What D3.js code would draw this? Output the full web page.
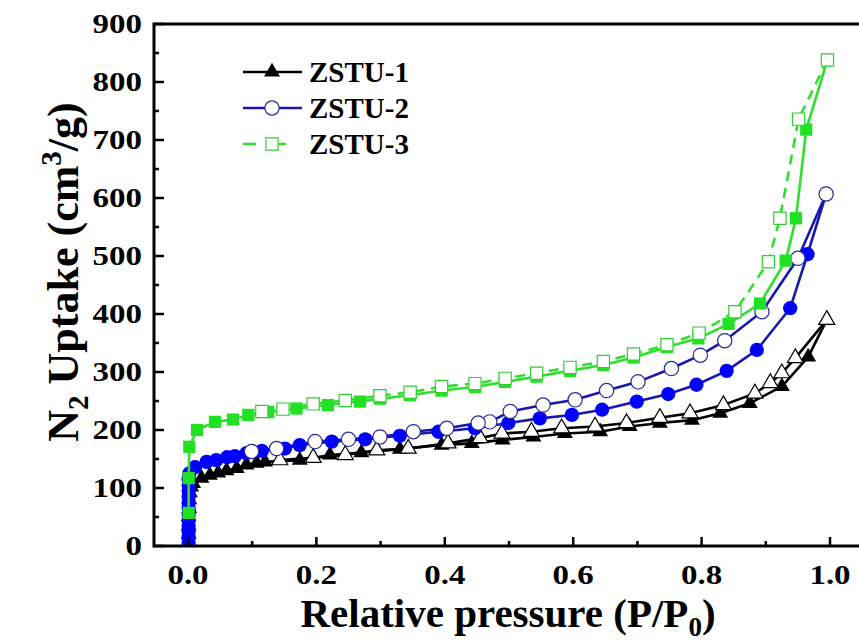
<!DOCTYPE html>
<html>
<head>
<meta charset="utf-8">
<script src="https://cdn.jsdelivr.net/npm/d3@7/dist/d3.min.js"></script>
<style>
  body { margin: 0; background: #fff; }
  text { font-family: "Liberation Serif", "Times New Roman", serif; font-weight: bold; fill: #000; }
</style>
</head>
<body>
<svg id="chart" width="859" height="641"></svg>
<script>
// [P/P0, uptake]
var zstu1Ads = [[0.001,5],[0.001,20],[0.001,35],[0.001,50],[0.002,65],[0.002,80],[0.003,92],[0.005,102],
  [0.008,108],[0.021,117],[0.034,122],[0.047,126],[0.06,130],[0.076,134],[0.091,140],[0.107,143],[0.12,145],
  [0.174,148],[0.221,157],[0.27,161],[0.33,167],[0.395,174],[0.442,177],[0.49,183],[0.538,188],[0.587,194],
  [0.642,197],[0.688,206],[0.735,212],[0.785,217],[0.829,229],[0.875,246],[0.925,275],[0.966,326],[0.995,390]];
var zstu1Des = [[0.995,390],[0.946,324],[0.925,298],[0.907,281],[0.883,263],[0.834,243],[0.782,229],[0.735,221],
  [0.683,212],[0.634,206],[0.582,203],[0.535,197],[0.489,194],[0.455,186],[0.405,177],[0.343,168],[0.294,165],
  [0.245,157],[0.195,152],[0.143,148]];

var zstu2Ads = [[0.001,5],[0.001,15],[0.001,25],[0.001,35],[0.001,45],[0.001,55],[0.001,65],[0.001,75],[0.001,85],
  [0.001,95],[0.001,105],[0.001,115],[0.002,125],[0.011,136],[0.029,145],[0.044,148],[0.061,153],[0.073,155],
  [0.091,160],[0.115,164],[0.151,168],[0.174,174],[0.224,180],[0.276,184],[0.33,190],[0.39,197],[0.447,203],
  [0.499,212],[0.548,220],[0.598,226],[0.645,235],[0.699,249],[0.748,262],[0.792,278],[0.839,302],[0.886,338],
  [0.938,410],[0.965,503],[0.994,607]];
var zstu2Des = [[0.994,607],[0.95,496],[0.894,404],[0.836,354],[0.798,329],[0.753,306],[0.701,283],[0.652,268],
  [0.603,252],[0.553,243],[0.502,232],[0.47,214],[0.452,212],[0.403,203],[0.351,197],[0.299,188],[0.25,184],
  [0.198,180],[0.138,168],[0.099,163]];

var zstu3Ads = [[0.001,57],[0.001,117],[0.002,171],[0.014,200],[0.042,214],[0.07,218],[0.094,226],[0.125,231],
  [0.169,237],[0.218,243],[0.268,249],[0.299,254],[0.346,260],[0.395,268],[0.447,274],[0.494,283],[0.543,292],
  [0.595,302],[0.647,312],[0.694,325],[0.746,343],[0.795,358],[0.842,383],[0.891,418],[0.931,492],[0.947,565],
  [0.963,718],[0.996,838]];
var zstu3Des = [[0.996,838],[0.951,736],[0.922,565],[0.904,490],[0.852,404],[0.796,367],[0.746,347],[0.694,331],
  [0.647,318],[0.595,308],[0.543,298],[0.494,289],[0.447,280],[0.395,275],[0.346,265],[0.299,259],[0.245,251],
  [0.195,245],[0.148,236],[0.115,232]];

var seriesNames = ["ZSTU-1", "ZSTU-2", "ZSTU-3"];
var xTicks = [0, 0.2, 0.4, 0.6, 0.8, 1.0];
var yTicks = [0, 100, 200, 300, 400, 500, 600, 700, 800, 900];

var svg = d3.select("#chart");
var plotLeft = 154, plotTop = 24, plotBottom = 546, plotRight = 875;

var x = d3.scaleLinear().domain([0, 1]).range([188, 830]);
var y = d3.scaleLinear().domain([0, 900]).range([plotBottom, plotTop]);

svg.append("defs").append("clipPath").attr("id", "plotclip")
  .append("rect").attr("x", plotLeft).attr("y", plotTop)
  .attr("width", plotRight - plotLeft).attr("height", plotBottom - plotTop);

var plot = svg.append("g").attr("clip-path", "url(#plotclip)");

var line = d3.line().x(d => x(d[0])).y(d => y(d[1]));

var styles = [
  { ads: zstu1Ads, des: zstu1Des, line: "#000", fill: "#000", stroke: "#000", sym: d3.symbolTriangle, size: 110, dash: null },
  { ads: zstu2Ads, des: zstu2Des, line: "#1818b0", fill: "#0000ff", stroke: "#2a2a9c", sym: d3.symbolCircle, size: 160, dash: null },
  { ads: zstu3Ads, des: zstu3Des, line: "#2ee02e", fill: "#22e022", stroke: "#2ed02e", sym: d3.symbolSquare, size: 150, dash: "10,7" }
];

styles.forEach(function(s) {
  plot.append("path").datum(s.ads).attr("d", line)
    .attr("fill", "none").attr("stroke", s.line).attr("stroke-width", 2.6);
  plot.append("path").datum(s.des).attr("d", line)
    .attr("fill", "none").attr("stroke", s.line).attr("stroke-width", 2.6)
    .attr("stroke-dasharray", s.dash);
  var sym = d3.symbol().type(s.sym).size(s.size);
  plot.selectAll(null).data(s.ads).enter().append("path")
    .attr("d", sym)
    .attr("transform", d => "translate(" + x(d[0]) + "," + y(d[1]) + ")")
    .attr("fill", s.fill);
  plot.selectAll(null).data(s.des).enter().append("path")
    .attr("d", sym)
    .attr("transform", d => "translate(" + x(d[0]) + "," + y(d[1]) + ")")
    .attr("fill", "#fff").attr("stroke", s.stroke).attr("stroke-width", 1.2);
});

// frame
svg.append("rect").attr("x", plotLeft).attr("y", plotTop)
  .attr("width", plotRight - plotLeft).attr("height", plotBottom - plotTop)
  .attr("fill", "none").attr("stroke", "#000").attr("stroke-width", 3);

// y ticks (inward)
var yMinor = d3.range(0, 901, 50);
svg.selectAll(null).data(yMinor).enter().append("line")
  .attr("x1", plotLeft).attr("x2", d => plotLeft + (d % 100 === 0 ? 10 : 5))
  .attr("y1", d => y(d)).attr("y2", d => y(d))
  .attr("stroke", "#000").attr("stroke-width", 2.5);
svg.selectAll(null).data(yTicks).enter().append("text")
  .attr("transform", d => "translate(142," + y(d) + ") scale(1.22,1)")
  .attr("text-anchor", "end").attr("dominant-baseline", "central")
  .style("font-size", "27px").text(d => d);

// x ticks (inward)
var xMinor = d3.range(0, 11).map(i => i / 10);
svg.selectAll(null).data(xMinor).enter().append("line")
  .attr("x1", d => x(d)).attr("x2", d => x(d))
  .attr("y1", plotBottom).attr("y2", (d, i) => plotBottom - (i % 2 === 0 ? 9 : 5))
  .attr("stroke", "#000").attr("stroke-width", 2.5);
svg.selectAll(null).data(xTicks).enter().append("text")
  .attr("transform", d => "translate(" + x(d) + ",575) scale(1.22,1)")
  .attr("text-anchor", "middle").attr("dominant-baseline", "central")
  .style("font-size", "27px").text(d => d.toFixed(1));

// axis titles
var xt = svg.append("text").attr("x", 508).attr("y", 627).attr("text-anchor", "middle")
  .style("font-size", "41px");
xt.append("tspan").text("Relative pressure (P/P");
xt.append("tspan").attr("dy", 9).style("font-size", "27px").text("0");
xt.append("tspan").attr("dy", -9).text(")");

var yt = svg.append("text").attr("transform", "translate(78,272) rotate(-90)").attr("text-anchor", "middle")
  .style("font-size", "44px");
yt.append("tspan").text("N");
yt.append("tspan").attr("dy", 10).style("font-size", "29px").text("2");
yt.append("tspan").attr("dy", -10).text(" Uptake (cm");
yt.append("tspan").attr("dy", -17).style("font-size", "29px").text("3");
yt.append("tspan").attr("dy", 17).text("/g)");

// legend
var legend = svg.append("g");
styles.forEach(function(s, i) {
  var ly = 72 + i * 36;
  legend.append("line").attr("x1", 243).attr("x2", 302).attr("y1", ly).attr("y2", ly)
    .attr("stroke", s.line).attr("stroke-width", 2.6).attr("stroke-dasharray", s.dash ? "13,17" : null);
  var sym = d3.symbol().type(s.sym).size(s.size);
  legend.append("path").attr("d", sym).attr("transform", "translate(272," + ly + ")")
    .attr("fill", i === 0 ? s.fill : "#fff").attr("stroke", i === 0 ? null : s.stroke).attr("stroke-width", 1.2);
  legend.append("text").attr("x", 309).attr("y", ly).attr("dominant-baseline", "central")
    .style("font-size", "29px").text(seriesNames[i]);
});
</script>
</body>
</html>
